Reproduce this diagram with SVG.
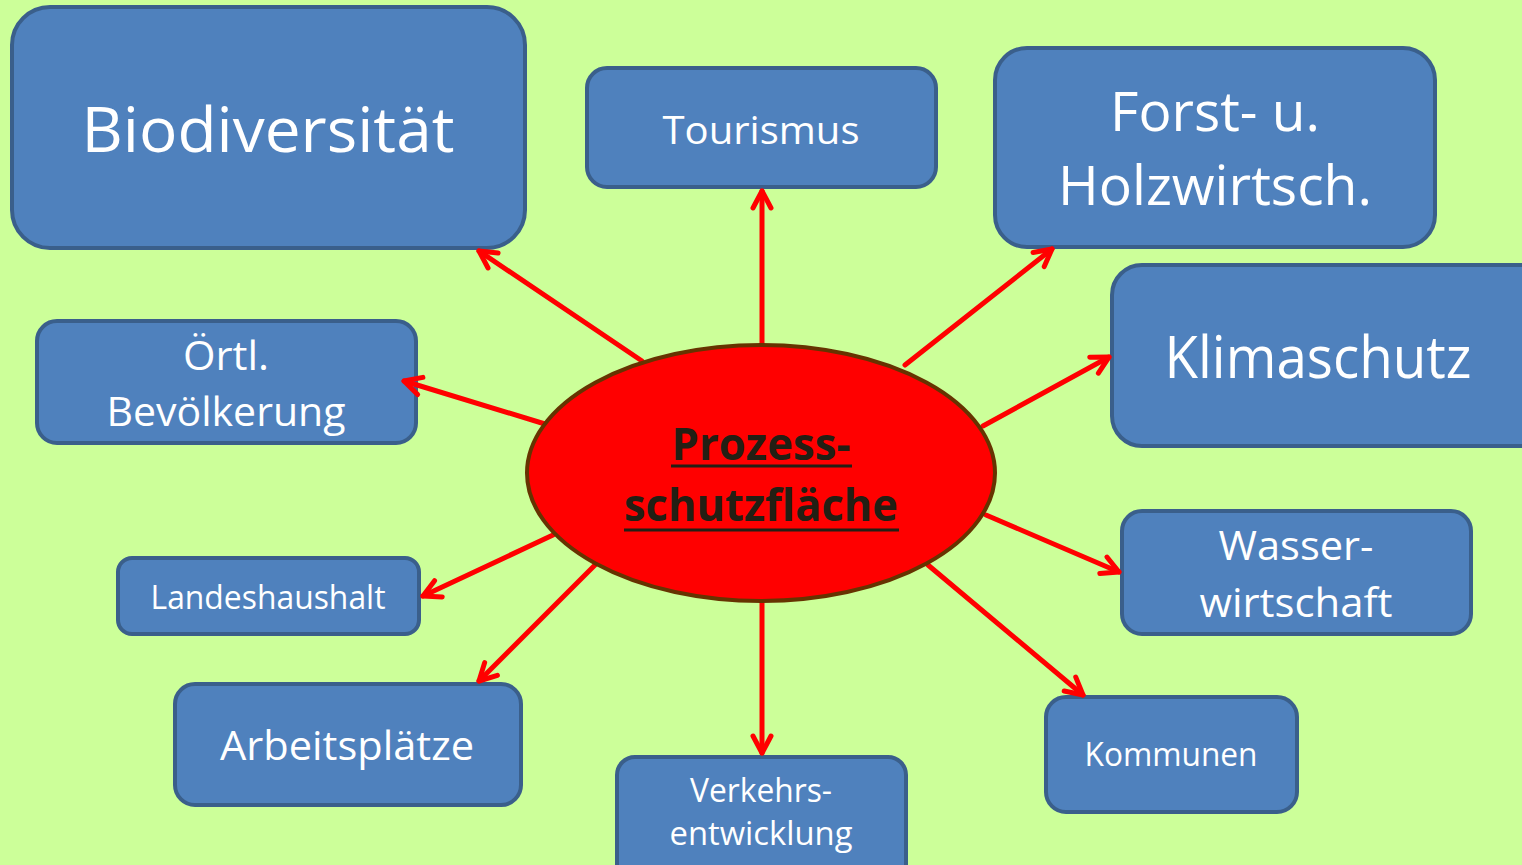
<svg xmlns="http://www.w3.org/2000/svg" width="1522" height="865" viewBox="0 0 1522 865">
<defs>
<style>
.box{fill:#4F81BD;stroke:#3A5F8B;stroke-width:4}
.t{fill:#FFFFFF;font-family:"Open Sans","Noto Sans","Liberation Sans",sans-serif;text-anchor:middle}
.c{stroke:#FF0000;stroke-width:5;fill:none;stroke-linecap:round;marker-end:url(#ah)}
.ct{fill:#231F14;font-family:"Open Sans","Noto Sans","Liberation Sans",sans-serif;font-weight:bold;text-anchor:middle;font-size:44px}
</style>
<marker id="ah" viewBox="0 0 24 24" markerWidth="24" markerHeight="24" refX="21" refY="12" orient="auto" markerUnits="userSpaceOnUse">
<path d="M4,3 L21,12 L4,21" fill="none" stroke="#FF0000" stroke-width="5" stroke-linecap="round" stroke-linejoin="round"/>
</marker>
</defs>
<rect width="1522" height="865" fill="#CCFF99"/>
<g id="biodiversitaet">
<rect class="box" x="12" y="7" width="513" height="241" rx="38"/>
<text class="t" x="268" y="152" font-size="62" textLength="373" lengthAdjust="spacingAndGlyphs">Biodiversität</text>
</g>
<g id="tourismus">
<rect class="box" x="587" y="68" width="349" height="119" rx="20"/>
<text class="t" x="761" y="144" font-size="38" textLength="197" lengthAdjust="spacingAndGlyphs">Tourismus</text>
</g>
<g id="forst">
<rect class="box" x="995" y="48" width="440" height="199" rx="32"/>
<text class="t" x="1215" y="131" font-size="55" textLength="210" lengthAdjust="spacingAndGlyphs">Forst- u.</text>
<text class="t" x="1215" y="205" font-size="55" textLength="314" lengthAdjust="spacingAndGlyphs">Holzwirtsch.</text>
</g>
<g id="klimaschutz">
<rect class="box" x="1112" y="265" width="440" height="181" rx="30"/>
<text class="t" x="1318" y="378" font-size="58" textLength="307" lengthAdjust="spacingAndGlyphs">Klimaschutz</text>
</g>
<g id="oertl">
<rect class="box" x="37" y="321" width="379" height="122" rx="20"/>
<text class="t" x="226" y="370" font-size="40" textLength="86" lengthAdjust="spacingAndGlyphs">Örtl.</text>
<text class="t" x="226" y="426" font-size="40" textLength="239" lengthAdjust="spacingAndGlyphs">Bevölkerung</text>
</g>
<g id="landeshaushalt">
<rect class="box" x="118" y="558" width="301" height="76" rx="14"/>
<text class="t" x="268" y="609" font-size="32" textLength="235" lengthAdjust="spacingAndGlyphs">Landeshaushalt</text>
</g>
<g id="arbeitsplaetze">
<rect class="box" x="175" y="684" width="346" height="121" rx="20"/>
<text class="t" x="347" y="760" font-size="40" textLength="254" lengthAdjust="spacingAndGlyphs">Arbeitsplätze</text>
</g>
<g id="verkehr">
<rect class="box" x="617" y="757" width="289" height="130" rx="18"/>
<text class="t" x="761" y="802" font-size="33" textLength="142" lengthAdjust="spacingAndGlyphs">Verkehrs-</text>
<text class="t" x="761" y="845" font-size="33" textLength="183" lengthAdjust="spacingAndGlyphs">entwicklung</text>
</g>
<g id="kommunen">
<rect class="box" x="1046" y="697" width="251" height="115" rx="20"/>
<text class="t" x="1171" y="766" font-size="32" textLength="173" lengthAdjust="spacingAndGlyphs">Kommunen</text>
</g>
<g id="wasser">
<rect class="box" x="1122" y="511" width="349" height="123" rx="20"/>
<text class="t" x="1296" y="560" font-size="40" textLength="155" lengthAdjust="spacingAndGlyphs">Wasser-</text>
<text class="t" x="1296" y="617" font-size="40" textLength="193" lengthAdjust="spacingAndGlyphs">wirtschaft</text>
</g>
<g id="connectors">
<line class="c" x1="642" y1="361" x2="479" y2="251"/>
<line class="c" x1="762" y1="344" x2="762" y2="191"/>
<line class="c" x1="905" y1="365" x2="1052" y2="249"/>
<line class="c" x1="983" y1="426" x2="1109" y2="357"/>
<line class="c" x1="545" y1="424" x2="404" y2="381"/>
<line class="c" x1="553" y1="535" x2="423" y2="596"/>
<line class="c" x1="595" y1="565" x2="479" y2="681"/>
<line class="c" x1="762" y1="602" x2="762" y2="753"/>
<line class="c" x1="928" y1="565" x2="1083" y2="695"/>
<line class="c" x1="986" y1="515" x2="1119" y2="572"/>
</g>
<g id="prozessschutzflaeche">
<ellipse cx="761" cy="473" rx="234" ry="128" fill="#FF0000" stroke="#663300" stroke-width="4"/>
<text class="ct" x="761" y="460" textLength="179" lengthAdjust="spacingAndGlyphs">Prozess-</text>
<line x1="671" y1="466" x2="852" y2="466" stroke="#231F14" stroke-width="3"/>
<text class="ct" x="761" y="521" textLength="274" lengthAdjust="spacingAndGlyphs">schutzfläche</text>
<line x1="624" y1="530" x2="899" y2="530" stroke="#231F14" stroke-width="3"/>
</g>
</svg>
